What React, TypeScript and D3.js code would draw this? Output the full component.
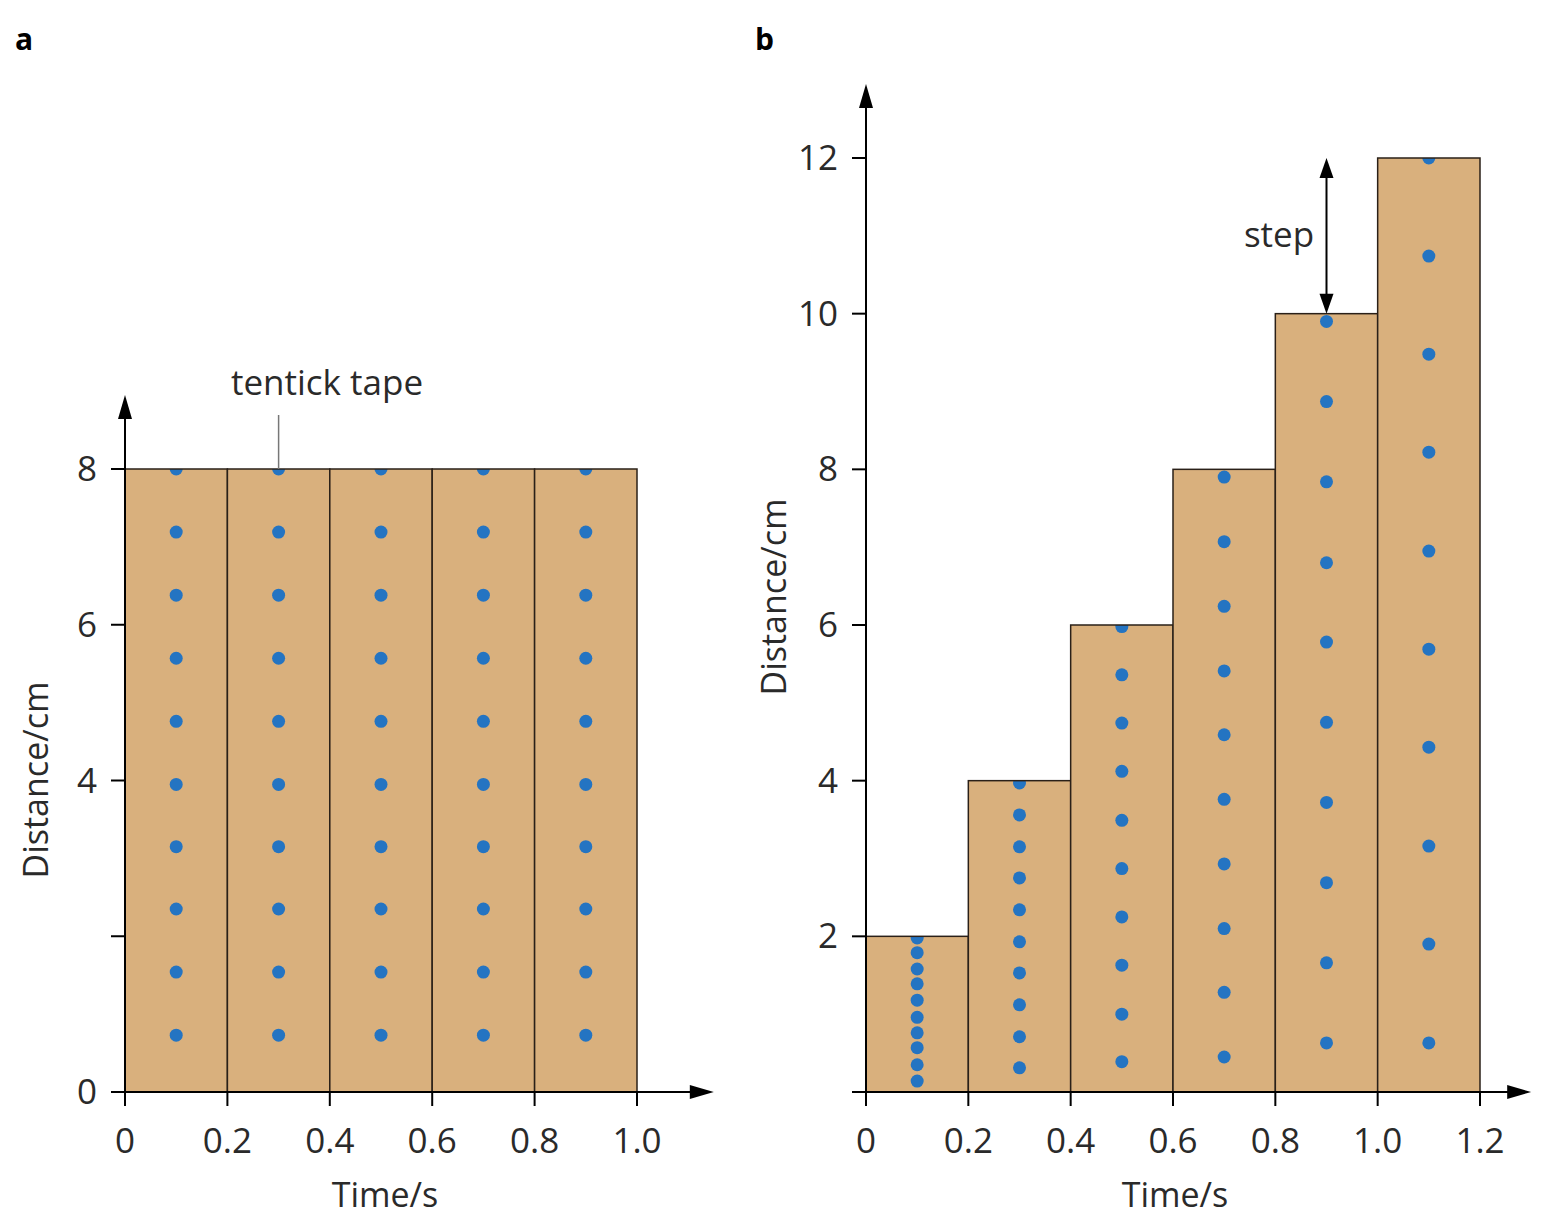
import React from "react";
import * as d3 from "d3";

// panel a: five equal ten-tick strips
const stripStartsA = [0, 0.2, 0.4, 0.6, 0.8];
const stripHeightsA = [8, 8, 8, 8, 8];
const dotsA = [8, 7.19, 6.38, 5.57, 4.76, 3.95, 3.15, 2.35, 1.54, 0.73];
const xTicksA = [0, 0.2, 0.4, 0.6, 0.8, 1.0];
const yTicksA = [0, 2, 4, 6, 8];
const yLabelsA = ["0", "", "4", "6", "8"];

// panel b: strips growing by one step each
const stripStartsB = [0, 0.2, 0.4, 0.6, 0.8, 1.0];
const stripHeightsB = [2, 4, 6, 8, 10, 12];
const dotsB = [
  [1.98, 1.79, 1.58, 1.39, 1.18, 0.96, 0.76, 0.57, 0.35, 0.14],
  [3.97, 3.56, 3.15, 2.75, 2.34, 1.93, 1.53, 1.12, 0.71, 0.31],
  [5.98, 5.36, 4.74, 4.12, 3.49, 2.87, 2.25, 1.63, 1.0, 0.39],
  [7.9, 7.07, 6.24, 5.41, 4.59, 3.76, 2.93, 2.1, 1.28, 0.45],
  [9.9, 8.87, 7.84, 6.8, 5.78, 4.75, 3.72, 2.69, 1.66, 0.63],
  [12, 10.74, 9.48, 8.22, 6.95, 5.69, 4.43, 3.16, 1.9, 0.63],
];
const xTicksB = [0, 0.2, 0.4, 0.6, 0.8, 1.0, 1.2];
const yTicksB = [0, 2, 4, 6, 8, 10, 12];
const yLabelsB = ["", "2", "4", "6", "8", "10", "12"];

const FILL = "#d9b07d";
const DOT = "#2474c2";
const FONT = "'Open Sans', 'Noto Sans', sans-serif";
const TXT = "#2a2a2a";

type PanelProps = {
  id: string;
  letter: string;
  letterX: number;
  x: d3.ScaleLinear<number, number>;
  y: d3.ScaleLinear<number, number>;
  xMaxArrow: number;
  yMaxArrow: number;
  starts: number[];
  heights: number[];
  dots: number[][];
  xTicks: number[];
  yTicks: number[];
  yLabels: string[];
  yTitleX: number;
  yTitleY: number;
  xTitleX: number;
};

function Panel(p: PanelProps) {
  const { x, y } = p;
  const w = x(0.2) - x(0);
  const x0 = x(0);
  const y0 = y(0);
  const xEnd = x(p.xMaxArrow);
  const yEnd = y(p.yMaxArrow);
  return (
    <g>
      <text x={p.letterX} y={50} fontFamily={FONT} fontWeight={700} fontSize={30}>
        {p.letter}
      </text>
      {p.starts.map((s, i) => (
        <g key={i}>
          <clipPath id={`${p.id}-clip-${i}`}>
            <rect x={x(s)} y={y(p.heights[i])} width={w} height={y0 - y(p.heights[i])} />
          </clipPath>
          <rect
            x={x(s)}
            y={y(p.heights[i])}
            width={w}
            height={y0 - y(p.heights[i])}
            fill={FILL}
          />
          <g clipPath={`url(#${p.id}-clip-${i})`}>
            {p.dots[i].map((d, j) => (
              <circle key={j} cx={x(s + 0.1)} cy={y(d)} r={6.5} fill={DOT} />
            ))}
          </g>
          <rect
            x={x(s)}
            y={y(p.heights[i])}
            width={w}
            height={y0 - y(p.heights[i])}
            fill="none"
            stroke="#2a2018"
            strokeWidth={1.5}
          />
        </g>
      ))}
      {/* axes */}
      <line x1={x0} x2={xEnd - 18} y1={y0} y2={y0} stroke="#000" strokeWidth={2} />
      <path d={`M${xEnd},${y0} L${xEnd - 24},${y0 - 7} L${xEnd - 24},${y0 + 7} Z`} fill="#000" />
      <line x1={x0} x2={x0} y1={y0} y2={yEnd + 18} stroke="#000" strokeWidth={2} />
      <path d={`M${x0},${yEnd} L${x0 - 7},${yEnd + 24} L${x0 + 7},${yEnd + 24} Z`} fill="#000" />
      {p.xTicks.map((t) => (
        <g key={`xt${t}`}>
          <line x1={x(t)} x2={x(t)} y1={y0} y2={y0 + 14} stroke="#000" strokeWidth={2} />
          <text
            x={x(t)}
            y={y0 + 61}
            textAnchor="middle"
            fontFamily={FONT}
            fontSize={35}
            fill={TXT}
          >
            {t === 0 ? "0" : t.toFixed(1)}
          </text>
        </g>
      ))}
      {p.yTicks.map((t, i) => (
        <g key={`yt${t}`}>
          <line x1={x0 - 14} x2={x0} y1={y(t)} y2={y(t)} stroke="#000" strokeWidth={2} />
          <text
            x={x0 - 28}
            y={y(t) + 12}
            textAnchor="end"
            fontFamily={FONT}
            fontSize={35}
            fill={TXT}
          >
            {p.yLabels[i]}
          </text>
        </g>
      ))}
      <text
        x={p.xTitleX}
        y={1207}
        textAnchor="middle"
        fontFamily={FONT}
        fontSize={34}
        fill={TXT}
      >
        Time/s
      </text>
      <text
        transform={`translate(${p.yTitleX},${p.yTitleY}) rotate(-90)`}
        textAnchor="middle"
        fontFamily={FONT}
        fontSize={34}
        fill={TXT}
      >
        Distance/cm
      </text>
    </g>
  );
}

export default function App() {
  const xa = d3.scaleLinear().domain([0, 1]).range([125, 637]);
  const ya = d3.scaleLinear().domain([0, 8]).range([1092, 469]);
  const xb = d3.scaleLinear().domain([0, 1.2]).range([866, 1480]);
  const yb = d3.scaleLinear().domain([0, 12]).range([1092, 158]);

  return (
    <svg width={1544} height={1216} style={{ position: "absolute", left: 0, top: 0 }}>
      <rect width={1544} height={1216} fill="#fff" />
      <Panel
        id="a"
        letter="a"
        letterX={15}
        x={xa}
        y={ya}
        xMaxArrow={1.15}
        yMaxArrow={8.95}
        starts={stripStartsA}
        heights={stripHeightsA}
        dots={stripStartsA.map(() => dotsA)}
        xTicks={xTicksA}
        yTicks={yTicksA}
        yLabels={yLabelsA}
        yTitleX={48}
        yTitleY={780}
        xTitleX={385}
      />
      {/* tentick tape label */}
      <line x1={xa(0.3)} x2={xa(0.3)} y1={415} y2={ya(8)} stroke="#777" strokeWidth={1.5} />
      <text x={327} y={395} textAnchor="middle" fontFamily={FONT} fontSize={35} fill={TXT}>
        tentick tape
      </text>
      <Panel
        id="b"
        letter="b"
        letterX={755}
        x={xb}
        y={yb}
        xMaxArrow={1.3}
        yMaxArrow={12.95}
        starts={stripStartsB}
        heights={stripHeightsB}
        dots={dotsB}
        xTicks={xTicksB}
        yTicks={yTicksB}
        yLabels={yLabelsB}
        yTitleX={786}
        yTitleY={597}
        xTitleX={1175}
      />
      {/* step marker */}
      <line x1={xb(0.9)} x2={xb(0.9)} y1={yb(12) + 14} y2={yb(10) - 14} stroke="#000" strokeWidth={2} />
      <path
        d={`M${xb(0.9)},${yb(12)} L${xb(0.9) - 7},${yb(12) + 20} L${xb(0.9) + 7},${yb(12) + 20} Z`}
        fill="#000"
      />
      <path
        d={`M${xb(0.9)},${yb(10)} L${xb(0.9) - 7},${yb(10) - 20} L${xb(0.9) + 7},${yb(10) - 20} Z`}
        fill="#000"
      />
      <text x={1279} y={247} textAnchor="middle" fontFamily={FONT} fontSize={35} fill={TXT}>
        step
      </text>
    </svg>
  );
}
